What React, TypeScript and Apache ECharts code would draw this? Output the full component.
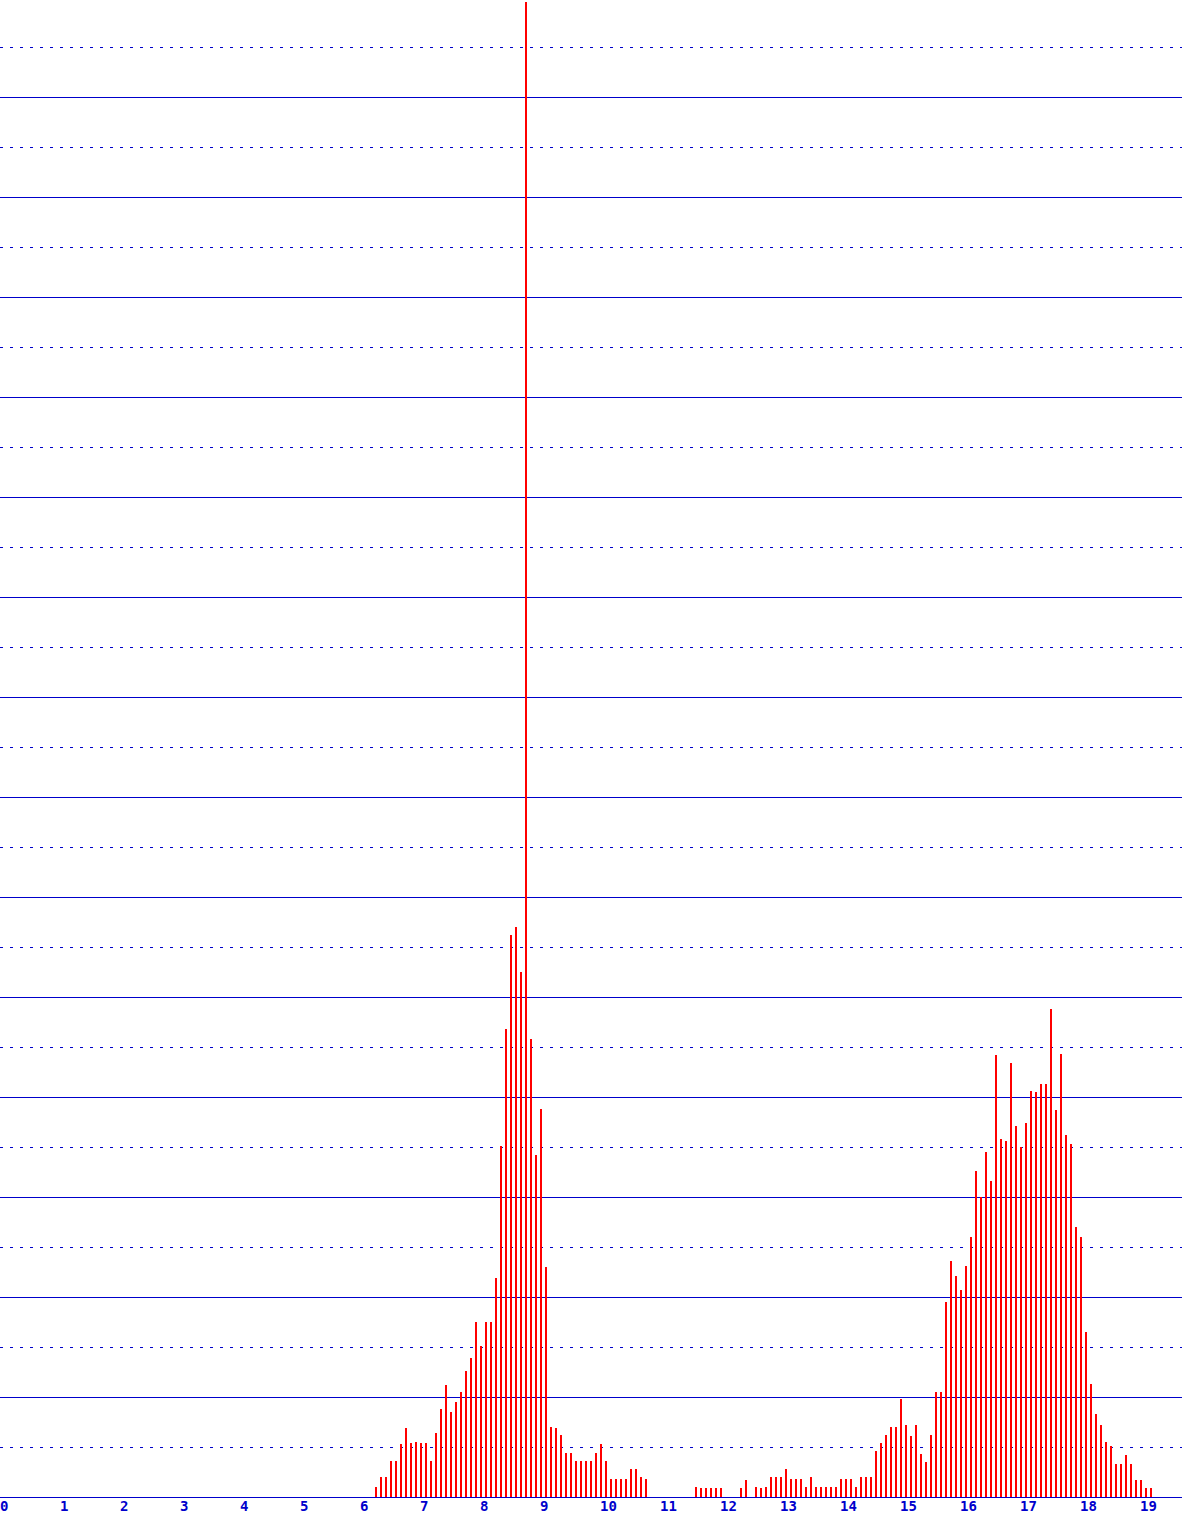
import React, { useEffect, useRef } from "react";
import * as echarts from "echarts";

// 5-minute bins, start minute of the first bin in each block and the bar heights
const morningStart = 375;
const morningHeights = [
  10, 20, 20, 36, 36, 53, 69, 54, 55, 54, 54, 36, 64, 88, 112, 85, 95, 105, 126, 139,
  175, 151, 175, 175, 219, 351, 468, 562, 570, 525, 1495, 458, 342, 388, 230, 70, 69, 62,
  44, 44, 36, 36, 36, 36, 44, 53, 36, 18, 18, 18, 18, 28, 28, 20, 18,
];

const eveningStart = 695;
const eveningHeights = [
  10, 9, 9, 9, 9, 9, 0, 0, 0, 9, 17, 0, 10, 9, 10, 20, 20, 20, 28, 18, 18, 18, 10, 20, 10,
  10, 10, 10, 10, 18, 18, 18, 10, 20, 20, 20, 46, 54, 62, 70, 70, 98, 72, 61, 72, 43, 35,
  62, 105, 105, 195, 236, 221, 207, 231, 260, 326, 300, 345, 316, 442, 358, 356, 434, 371,
  350, 374, 406, 405, 413, 413, 488, 387, 443, 362, 353, 270, 260, 165, 113, 83, 72, 55,
  51, 33, 33, 42, 33, 17, 17, 9, 9,
];

const binMinutes = 5;
const xMax = 1182; // minutes shown
const yMax = 1497;

const BLUE = "#0000cc";

const toBars = (start: number, heights: number[]) =>
  heights
    .map((h, i) => [start + i * binMinutes, h])
    .filter((d) => d[1] > 0);

const App: React.FC = () => {
  const chartRef = useRef<HTMLDivElement>(null);

  useEffect(() => {
    document.body.style.margin = "0";
    const chart = echarts.init(chartRef.current!, undefined, { renderer: "svg" });

    const bars = [...toBars(morningStart, morningHeights), ...toBars(eveningStart, eveningHeights)];

    chart.setOption({
      animation: false,
      backgroundColor: "#ffffff",
      grid: {
        left: 0,
        right: 0,
        top: 0,
        bottom: 20,
        containLabel: false,
        outerBoundsMode: "none",
      },
      xAxis: [
        {
          type: "value",
          min: 0,
          max: xMax,
          interval: 60,
          axisLine: { show: true, lineStyle: { color: BLUE, width: 1 } },
          axisTick: { show: false },
          splitLine: { show: false },
          axisLabel: {
            show: true,
            color: BLUE,
            fontFamily: "DejaVu Sans Mono",
            fontWeight: "bold",
            fontSize: 14,
            align: "left",
            margin: 2,
            hideOverlap: false,
            formatter: (v: number) => (v % 60 === 0 ? String(v / 60) : ""),
          },
        },
        {
          // bars sit just right of their bin start, as in the source plot
          type: "value",
          min: -1,
          max: xMax - 1,
          show: false,
        },
      ],
      yAxis: [
        {
          type: "value",
          min: 0,
          max: yMax,
          interval: 50,
          axisLine: { show: false },
          axisTick: { show: false },
          axisLabel: { show: false },
          splitLine: {
            show: true,
            showMaxLine: false,
            lineStyle: { color: BLUE, width: 1, type: [3, 7] },
          },
        },
        {
          type: "value",
          min: 0,
          max: yMax,
          interval: 100,
          position: "left",
          axisLine: { show: false },
          axisTick: { show: false },
          axisLabel: { show: false },
          splitLine: {
            show: true,
            showMaxLine: false,
            lineStyle: { color: BLUE, width: 1, type: "solid" },
          },
        },
      ],
      series: [
        {
          type: "bar",
          xAxisIndex: 1,
          yAxisIndex: 0,
          data: bars,
          barWidth: 2,
          clip: true,
          itemStyle: { color: "#ff0000" },
        },
      ],
    });

    return () => {
      chart.dispose();
    };
  }, []);

  return <div ref={chartRef} style={{ width: "1182px", height: "1517px" }} />;
};

export default App;
